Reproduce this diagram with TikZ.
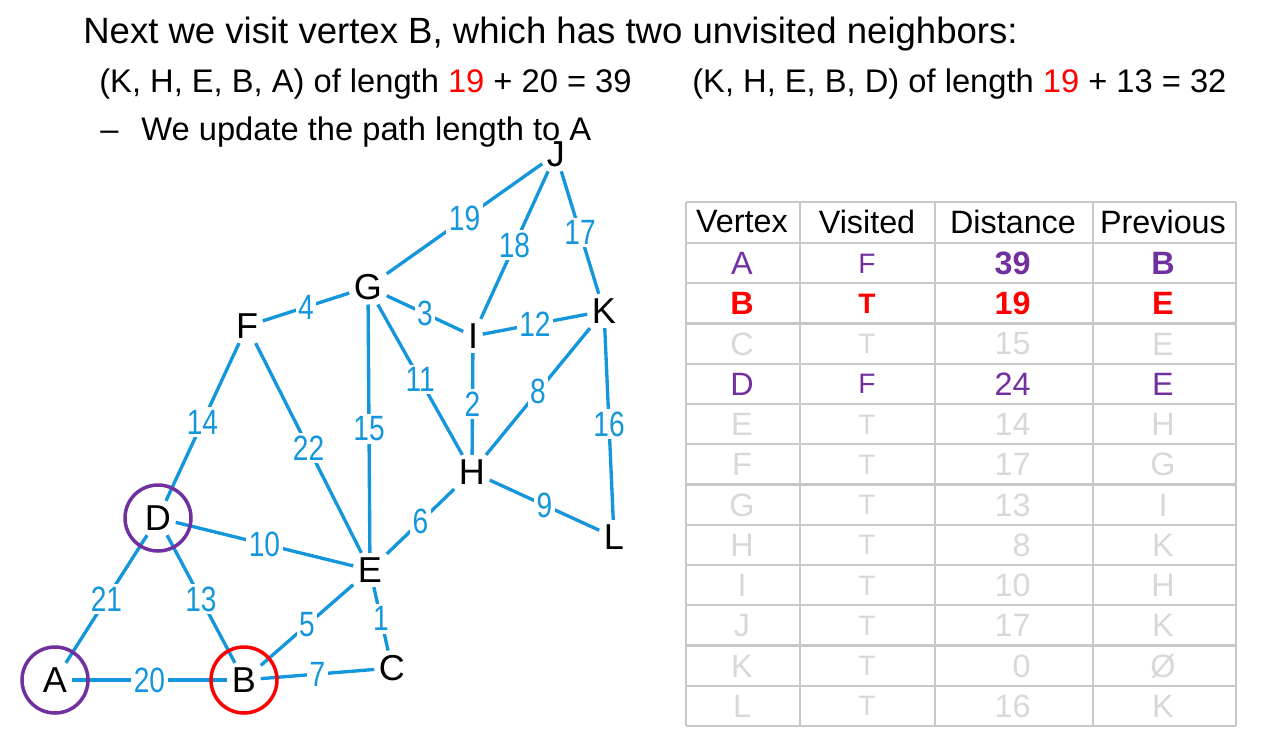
\documentclass[tikz,border=0pt]{standalone}
\usepackage{fontspec}
\setmainfont{Liberation Sans}
\newfontfamily\edgefont[FakeStretch=0.8]{Liberation Sans}
\definecolor{edgeblue}{RGB}{20,150,220}
\definecolor{vpurple}{RGB}{112,48,160}
\definecolor{fadegray}{RGB}{216,216,216}
\definecolor{gridgray}{RGB}{200,200,200}

\begin{document}
\begin{tikzpicture}[x=0.02cm,y=-0.02cm,
  vtx/.style={inner sep=2.5pt,font=\fontsize{20.5}{20.5}\selectfont},
  wgt/.style={midway,fill=white,inner sep=1.5pt,text=edgeblue,font=\edgefont\fontsize{20}{20}\selectfont},
  link/.style={draw=edgeblue,line width=1.9pt},
  ring/.style={line width=2pt},
  txt/.style={anchor=base west,inner sep=0pt,font=\fontsize{18.6}{18.6}\selectfont},
  cell/.style={inner sep=0pt,font=\fontsize{18.4}{18.4}\selectfont},
  vcell/.style={inner sep=0pt,font=\fontsize{16}{16}\selectfont}]
\useasboundingbox (0,0) rectangle (1262,735);

% text
\node[txt,font=\fontsize{20.8}{20.8}\selectfont] (title) at (83,43) {Next we visit vertex B, which has two unvisited neighbors:};
\node[txt] (pathA) at (99,92) {(K, H, E, B, A) of length \textcolor{red}{19} + 20 = 39};
\node[txt] (pathD) at (692,92) {(K, H, E, B, D) of length \textcolor{red}{19} + 13 = 32};
\node[txt] (dash) at (100,140) {–};
\node[txt] (note) at (141,140) {We update the path length to A};

% graph
\node[vtx] (J) at (556,154) {J};
\node[vtx] (G) at (368,287) {G};
\node[vtx] (F) at (247,326) {F};
\node[vtx] (I) at (473,336) {I};
\node[vtx] (K) at (604,311) {K};
\node[vtx] (H) at (472,472) {H};
\node[vtx] (L) at (614,537) {L};
\node[vtx] (D) at (158,518) {D};
\node[vtx] (E) at (370,570) {E};
\node[vtx] (A) at (55,680) {A};
\node[vtx] (B) at (244,680) {B};
\node[vtx] (C) at (392,668) {C};

\draw[link] (J) -- node[wgt] {19} (G);
\draw[link] (J) -- node[wgt] {18} (I);
\draw[link] (J) -- node[wgt] {17} (K);
\draw[link] (G) -- node[wgt] {4} (F);
\draw[link] (G) -- node[wgt] {3} (I);
\draw[link] (I) -- node[wgt] {12} (K);
\draw[link] (G) -- node[wgt] {15} (E);
\draw[link] (G) -- node[wgt] {11} (H);
\draw[link] (I) -- node[wgt] {2} (H);
\draw[link] (K) -- node[wgt] {8} (H);
\draw[link] (K) -- node[wgt] {16} (L);
\draw[link] (F) -- node[wgt] {14} (D);
\draw[link] (F) -- node[wgt] {22} (E);
\draw[link] (H) -- node[wgt] {6} (E);
\draw[link] (H) -- node[wgt] {9} (L);
\draw[link] (D) -- node[wgt] {10} (E);
\draw[link] (D) -- node[wgt] {21} (A);
\draw[link] (D) -- node[wgt] {13} (B);
\draw[link] (E) -- node[wgt] {5} (B);
\draw[link] (E) -- node[wgt] {1} (C);
\draw[link] (A) -- node[wgt] {20} (B);
\draw[link] (B) -- node[wgt] {7} (C);

\draw[ring,vpurple] (A) circle (33);
\draw[ring,vpurple] (D) circle (33);
\draw[ring,red] (B) circle (33);

% table
\foreach \k in {0,...,12} \draw[gridgray,line width=1.2pt] (686,{243+40.25*\k}) -- (1236,{243+40.25*\k});
\draw[gridgray,line width=1.2pt] (686,202) -- (1236,202);
\foreach \x in {686,800,935,1093,1236} \draw[gridgray,line width=1.2pt] (\x,202) -- (\x,726);
\node[cell] (h1) at (742,222) {Vertex};
\node[cell] (h2) at (867,222) {Visited};
\node[cell] (h3) at (1013,222) {Distance};
\node[cell] (h4) at (1163,222) {Previous};
\foreach \v/\vis/\dist/\prev/\col [count=\r] in {
  A/F/\textbf{39}/\textbf{B}/vpurple,
  \textbf{B}/\textbf{T}/\textbf{19}/\textbf{E}/red,
  C/T/15/E/fadegray,
  D/F/24/E/vpurple,
  E/T/14/H/fadegray,
  F/T/17/G/fadegray,
  G/T/13/I/fadegray,
  H/T/8/K/fadegray,
  I/T/10/H/fadegray,
  J/T/17/K/fadegray,
  K/T/0/Ø/fadegray,
  L/T/16/K/fadegray}{
  \pgfmathsetmacro\yy{263.5+40.25*(\r-1)}
  \node[cell,text=\col] (v\r) at (742,\yy) {\v};
  \node[vcell,text=\col] (s\r) at (867,\yy) {\vis};
  \node[cell,text=\col,anchor=east] (d\r) at (1031,\yy) {\dist};
  \node[cell,text=\col] (p\r) at (1163,\yy) {\prev};
}
\end{tikzpicture}
\end{document}
